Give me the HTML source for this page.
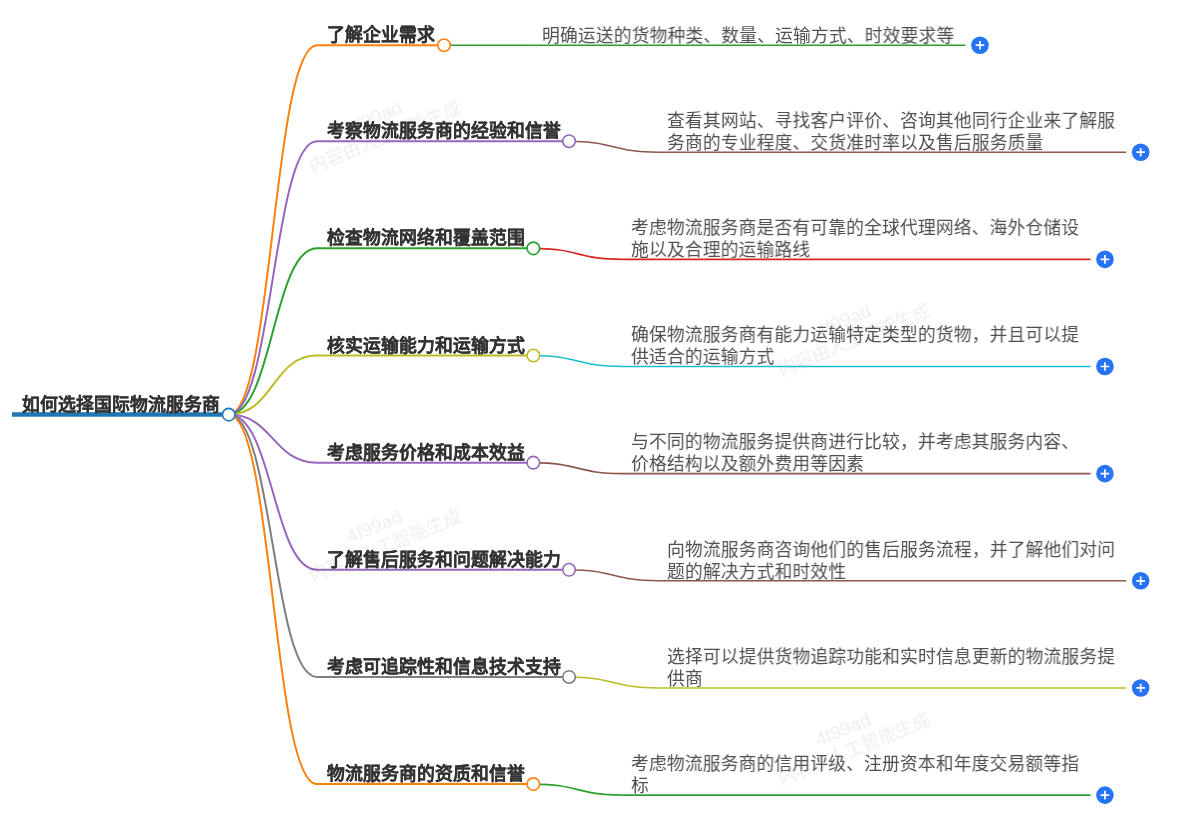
<!DOCTYPE html>
<html lang="zh-CN"><head><meta charset="utf-8"><style>
html,body{margin:0;padding:0;background:#fff;}
body{width:1203px;height:815px;overflow:hidden;position:relative;font-family:"Liberation Sans",sans-serif;}
svg{position:absolute;left:0;top:0;}
.l1,.l2,.wm{will-change:transform;}
.l1,.l2{position:absolute;white-space:nowrap;font-size:17.857px;line-height:22px;}
.l1{font-weight:bold;color:#333;-webkit-text-stroke:0.15px #333;}
.l2{color:#505050;transform:scaleX(0.996);transform-origin:0 0;}
.wm{position:absolute;width:200px;height:41px;text-align:center;font-size:18px;line-height:21px;color:#eeeeee;transform:rotate(-22deg);white-space:nowrap;}
</style></head><body>
<div class="wm" style="left:281px;top:105.5px"><span style="font-size:19px;position:relative;left:-3px;top:-1px">4f99ad</span><br>内容由人工智能生成</div><div class="wm" style="left:281px;top:514.5px"><span style="font-size:19px;position:relative;left:-3px;top:-1px">4f99ad</span><br>内容由人工智能生成</div><div class="wm" style="left:750.2px;top:308.5px"><span style="font-size:19px;position:relative;left:-3px;top:-1px">4f99ad</span><br>内容由人工智能生成</div><div class="wm" style="left:750.2px;top:717.5px"><span style="font-size:19px;position:relative;left:-3px;top:-1px">4f99ad</span><br>内容由人工智能生成</div>
<svg width="1203" height="815" viewBox="0 0 1203 815">
<path d="M228.75,414.60C272.88,414.60 272.88,45.20 317.00,45.20" stroke="#ff7f0e" stroke-width="2" fill="none"/>
<path d="M228.75,414.60C272.88,414.60 272.88,141.20 317.00,141.20" stroke="#9467bd" stroke-width="2" fill="none"/>
<path d="M228.75,414.60C272.88,414.60 272.88,248.35 317.00,248.35" stroke="#2ca02c" stroke-width="2" fill="none"/>
<path d="M228.75,414.60C272.88,414.60 272.88,355.50 317.00,355.50" stroke="#bcbd22" stroke-width="2" fill="none"/>
<path d="M228.75,414.60C272.88,414.60 272.88,462.65 317.00,462.65" stroke="#9467bd" stroke-width="2" fill="none"/>
<path d="M228.75,414.60C272.88,414.60 272.88,569.80 317.00,569.80" stroke="#9467bd" stroke-width="2" fill="none"/>
<path d="M228.75,414.60C272.88,414.60 272.88,676.95 317.00,676.95" stroke="#7f7f7f" stroke-width="2" fill="none"/>
<path d="M228.75,414.60C272.88,414.60 272.88,784.10 317.00,784.10" stroke="#ff7f0e" stroke-width="2" fill="none"/>
<line x1="12" y1="414.6" x2="228.75" y2="414.6" stroke="#1f77b4" stroke-width="4.5"/>
<line x1="317.0" y1="45.2" x2="444.04" y2="45.2" stroke="#ff7f0e" stroke-width="2"/>
<path d="M444.04,45.20C488.44,45.20 488.44,45.20 532.84,45.20" stroke="#2ca02c" stroke-width="1.6" fill="none"/>
<line x1="532.84" y1="45.20" x2="965.45" y2="45.20" stroke="#2ca02c" stroke-width="1.6"/>
<circle cx="444.04" cy="45.2" r="6.25" fill="#fff" stroke="#ff7f0e" stroke-width="1.6"/>
<g transform="translate(979.95,45.20)"><circle r="8.8" fill="#2673f5"/><path d="M-4.3,0H4.3M0,-4.3V4.3" stroke="#fff" stroke-width="1.7"/></g>
<line x1="317.0" y1="141.2" x2="569.04" y2="141.2" stroke="#9467bd" stroke-width="2"/>
<path d="M569.04,141.20C613.44,141.20 613.44,152.20 657.84,152.20" stroke="#8c564b" stroke-width="1.6" fill="none"/>
<line x1="657.84" y1="152.20" x2="1126.17" y2="152.20" stroke="#8c564b" stroke-width="1.6"/>
<circle cx="569.04" cy="141.2" r="6.25" fill="#fff" stroke="#9467bd" stroke-width="1.6"/>
<g transform="translate(1140.67,152.20)"><circle r="8.8" fill="#2673f5"/><path d="M-4.3,0H4.3M0,-4.3V4.3" stroke="#fff" stroke-width="1.7"/></g>
<line x1="317.0" y1="248.35" x2="533.33" y2="248.35" stroke="#2ca02c" stroke-width="2"/>
<path d="M533.33,248.35C577.73,248.35 577.73,259.35 622.13,259.35" stroke="#d62728" stroke-width="1.6" fill="none"/>
<line x1="622.13" y1="259.35" x2="1090.45" y2="259.35" stroke="#d62728" stroke-width="1.6"/>
<circle cx="533.33" cy="248.35" r="6.25" fill="#fff" stroke="#2ca02c" stroke-width="1.6"/>
<g transform="translate(1104.95,259.35)"><circle r="8.8" fill="#2673f5"/><path d="M-4.3,0H4.3M0,-4.3V4.3" stroke="#fff" stroke-width="1.7"/></g>
<line x1="317.0" y1="355.5" x2="533.33" y2="355.5" stroke="#bcbd22" stroke-width="2"/>
<path d="M533.33,355.50C577.73,355.50 577.73,366.50 622.13,366.50" stroke="#17becf" stroke-width="1.6" fill="none"/>
<line x1="622.13" y1="366.50" x2="1090.45" y2="366.50" stroke="#17becf" stroke-width="1.6"/>
<circle cx="533.33" cy="355.5" r="6.25" fill="#fff" stroke="#bcbd22" stroke-width="1.6"/>
<g transform="translate(1104.95,366.50)"><circle r="8.8" fill="#2673f5"/><path d="M-4.3,0H4.3M0,-4.3V4.3" stroke="#fff" stroke-width="1.7"/></g>
<line x1="317.0" y1="462.65" x2="533.33" y2="462.65" stroke="#9467bd" stroke-width="2"/>
<path d="M533.33,462.65C577.73,462.65 577.73,473.65 622.13,473.65" stroke="#8c564b" stroke-width="1.6" fill="none"/>
<line x1="622.13" y1="473.65" x2="1090.45" y2="473.65" stroke="#8c564b" stroke-width="1.6"/>
<circle cx="533.33" cy="462.65" r="6.25" fill="#fff" stroke="#9467bd" stroke-width="1.6"/>
<g transform="translate(1104.95,473.65)"><circle r="8.8" fill="#2673f5"/><path d="M-4.3,0H4.3M0,-4.3V4.3" stroke="#fff" stroke-width="1.7"/></g>
<line x1="317.0" y1="569.8" x2="569.04" y2="569.8" stroke="#9467bd" stroke-width="2"/>
<path d="M569.04,569.80C613.44,569.80 613.44,580.80 657.84,580.80" stroke="#8c564b" stroke-width="1.6" fill="none"/>
<line x1="657.84" y1="580.80" x2="1126.17" y2="580.80" stroke="#8c564b" stroke-width="1.6"/>
<circle cx="569.04" cy="569.8" r="6.25" fill="#fff" stroke="#9467bd" stroke-width="1.6"/>
<g transform="translate(1140.67,580.80)"><circle r="8.8" fill="#2673f5"/><path d="M-4.3,0H4.3M0,-4.3V4.3" stroke="#fff" stroke-width="1.7"/></g>
<line x1="317.0" y1="676.95" x2="569.04" y2="676.95" stroke="#7f7f7f" stroke-width="2"/>
<path d="M569.04,676.95C613.44,676.95 613.44,687.95 657.84,687.95" stroke="#bcbd22" stroke-width="1.6" fill="none"/>
<line x1="657.84" y1="687.95" x2="1126.17" y2="687.95" stroke="#bcbd22" stroke-width="1.6"/>
<circle cx="569.04" cy="676.95" r="6.25" fill="#fff" stroke="#7f7f7f" stroke-width="1.6"/>
<g transform="translate(1140.67,687.95)"><circle r="8.8" fill="#2673f5"/><path d="M-4.3,0H4.3M0,-4.3V4.3" stroke="#fff" stroke-width="1.7"/></g>
<line x1="317.0" y1="784.1" x2="533.33" y2="784.1" stroke="#ff7f0e" stroke-width="2"/>
<path d="M533.33,784.10C577.73,784.10 577.73,795.10 622.13,795.10" stroke="#2ca02c" stroke-width="1.6" fill="none"/>
<line x1="622.13" y1="795.10" x2="1090.45" y2="795.10" stroke="#2ca02c" stroke-width="1.6"/>
<circle cx="533.33" cy="784.1" r="6.25" fill="#fff" stroke="#ff7f0e" stroke-width="1.6"/>
<g transform="translate(1104.95,795.10)"><circle r="8.8" fill="#2673f5"/><path d="M-4.3,0H4.3M0,-4.3V4.3" stroke="#fff" stroke-width="1.7"/></g>
<circle cx="228.75" cy="414.6" r="6.25" fill="#fff" stroke="#1f77b4" stroke-width="1.6"/>
</svg>
<div class="l1" style="left:327.2px;top:24.30px">了解企业需求</div>
<div class="l2" style="left:542.14px;top:24.90px">明确运送的货物种类、数量、运输方式、时效要求等</div>
<div class="l1" style="left:327.2px;top:120.30px">考察物流服务商的经验和信誉</div>
<div class="l2" style="left:667.14px;top:109.90px">查看其网站、寻找客户评价、咨询其他同行企业来了解服<br>务商的专业程度、交货准时率以及售后服务质量</div>
<div class="l1" style="left:327.2px;top:227.45px">检查物流网络和覆盖范围</div>
<div class="l2" style="left:631.43px;top:217.05px">考虑物流服务商是否有可靠的全球代理网络、海外仓储设<br>施以及合理的运输路线</div>
<div class="l1" style="left:327.2px;top:334.60px">核实运输能力和运输方式</div>
<div class="l2" style="left:631.43px;top:324.20px">确保物流服务商有能力运输特定类型的货物，并且可以提<br>供适合的运输方式</div>
<div class="l1" style="left:327.2px;top:441.75px">考虑服务价格和成本效益</div>
<div class="l2" style="left:631.43px;top:431.35px">与不同的物流服务提供商进行比较，并考虑其服务内容、<br>价格结构以及额外费用等因素</div>
<div class="l1" style="left:327.2px;top:548.90px">了解售后服务和问题解决能力</div>
<div class="l2" style="left:667.14px;top:538.50px">向物流服务商咨询他们的售后服务流程，并了解他们对问<br>题的解决方式和时效性</div>
<div class="l1" style="left:327.2px;top:656.05px">考虑可追踪性和信息技术支持</div>
<div class="l2" style="left:667.14px;top:645.65px">选择可以提供货物追踪功能和实时信息更新的物流服务提<br>供商</div>
<div class="l1" style="left:327.2px;top:763.20px">物流服务商的资质和信誉</div>
<div class="l2" style="left:631.43px;top:752.80px">考虑物流服务商的信用评级、注册资本和年度交易额等指<br>标</div>
<div class="l1 root" style="left:21.6px;top:393.90px">如何选择国际物流服务商</div>
</body></html>
